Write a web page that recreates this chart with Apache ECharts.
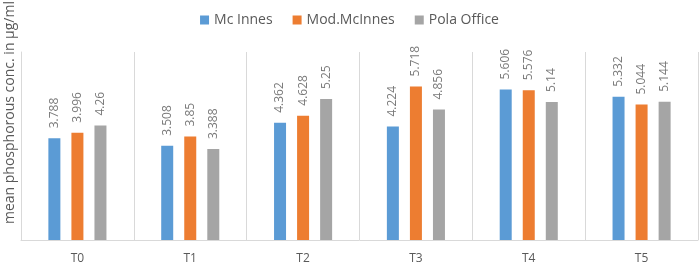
<!DOCTYPE html>
<html>
<head>
<meta charset="utf-8">
<script src="https://cdn.jsdelivr.net/npm/echarts@6/dist/echarts.min.js"></script>
<style>
  html, body { margin: 0; padding: 0; background: #fff; }
  #chart { width: 699px; height: 265px; }
</style>
</head>
<body>
<div id="chart"></div>
<script>
// categories and series values
const categories = ['T0', 'T1', 'T2', 'T3', 'T4', 'T5'];
const mcInnes = [3.788, 3.508, 4.362, 4.224, 5.606, 5.332];
const modMcInnes = [3.996, 3.85, 4.628, 5.718, 5.576, 5.044];
const polaOffice = [4.26, 3.388, 5.25, 4.856, 5.14, 5.144];
const seriesNames = ['Mc Innes', 'Mod.McInnes', 'Pola Office'];
const yAxisTitle = 'mean phosphorous conc. in µg/ml';

const chart = echarts.init(document.getElementById('chart'));

const font = 'Open Sans, sans-serif';

function makeBar(name, data, color) {
    return {
        name: name,
        type: 'bar',
        data: data,
        barWidth: 12,
        barGap: '92%',
        itemStyle: { color: color },
        label: {
            show: true,
            position: 'top',
            rotate: 90,
            align: 'left',
            verticalAlign: 'middle',
            distance: 10,
            color: '#7a7a7a',
            fontSize: 12,
            fontFamily: font
        }
    };
}

const option = {
    animation: false,
    grid: { left: 21, right: 1, top: 52, bottom: 25 },
    legend: {
        top: 8,
        left: 'center',
        itemWidth: 9,
        itemHeight: 9,
        itemGap: 20,
        icon: 'rect',
        textStyle: { color: '#595959', fontSize: 14, fontFamily: font }
    },
    // y axis title, drawn on its own so it can sit where the reference has it
    graphic: [{
        type: 'text',
        left: 3,
        top: 1,
        rotation: Math.PI / 2,
        style: {
            text: yAxisTitle,
            fill: '#595959',
            fontSize: 14,
            fontFamily: font
        }
    }],
    xAxis: {
        type: 'category',
        data: categories,
        axisLine: { lineStyle: { color: '#d9d9d9' } },
        axisTick: { show: false },
        splitLine: { show: true, lineStyle: { color: '#d9d9d9' } },
        axisLabel: { color: '#595959', fontSize: 12, fontFamily: font, margin: 13 }
    },
    yAxis: {
        type: 'value',
        min: 0,
        max: 7,
        axisLabel: { show: false },
        splitLine: { show: false },
        axisLine: { show: true, lineStyle: { color: '#d9d9d9' } }
    },
    series: [
        makeBar(seriesNames[0], mcInnes, '#5b9bd5'),
        makeBar(seriesNames[1], modMcInnes, '#ed7d31'),
        makeBar(seriesNames[2], polaOffice, '#a5a5a5')
    ]
};

chart.setOption(option);
</script>
</body>
</html>
